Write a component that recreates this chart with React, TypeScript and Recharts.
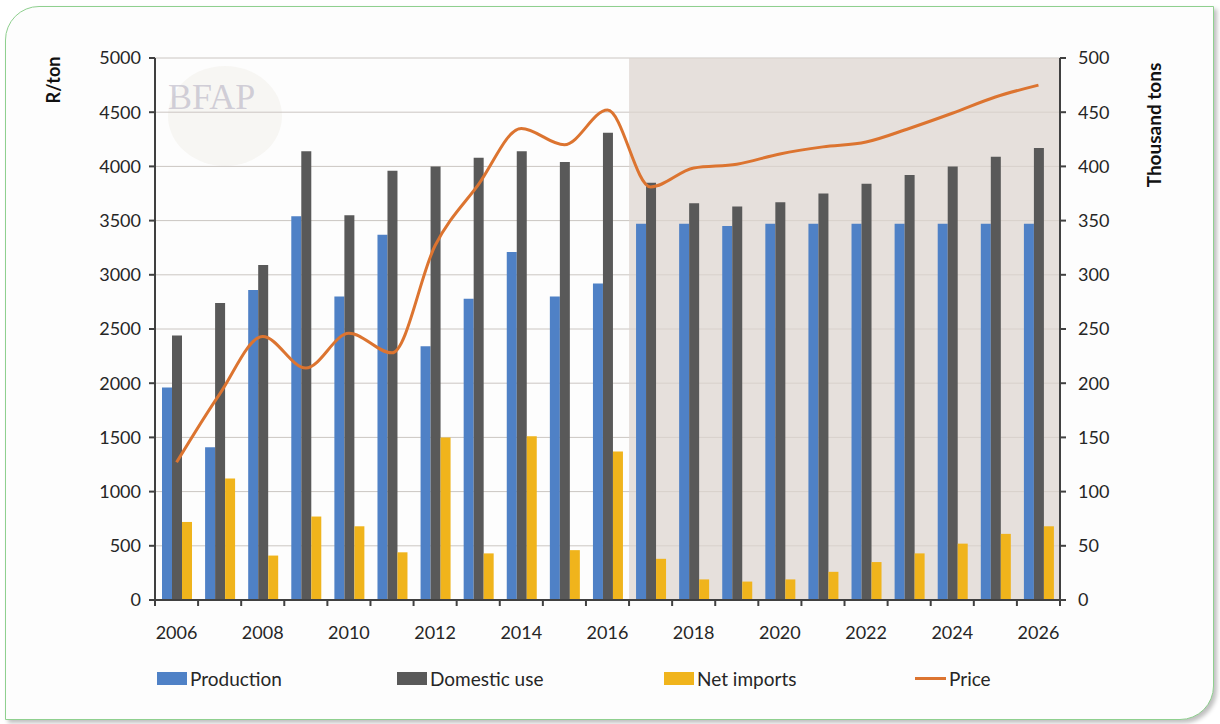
import React from "react";
import {
  ComposedChart, Bar, Line, XAxis, YAxis, CartesianGrid, Legend, ReferenceArea,
} from "recharts";

const years = [
  "2006", "2007", "2008", "2009", "2010", "2011", "2012", "2013", "2014", "2015", "2016",
  "2017", "2018", "2019", "2020", "2021", "2022", "2023", "2024", "2025", "2026",
];
// thousand tons (right axis)
const production = [196, 141, 286, 354, 280, 337, 234, 278, 321, 280, 292, 347, 347, 345, 347, 347, 347, 347, 347, 347, 347];
const domesticUse = [244, 274, 309, 414, 355, 396, 400, 408, 414, 404, 431, 385, 366, 363, 367, 375, 384, 392, 400, 409, 417];
const netImports = [72, 112, 41, 77, 68, 44, 150, 43, 151, 46, 137, 38, 19, 17, 19, 26, 35, 43, 52, 61, 68];
// R/ton (left axis)
const price = [1270, 1900, 2430, 2140, 2460, 2280, 3270, 3830, 4350, 4200, 4520, 3810, 3985, 4020, 4115, 4180, 4225, 4350, 4490, 4640, 4750];

const leftTicks = [0, 500, 1000, 1500, 2000, 2500, 3000, 3500, 4000, 4500, 5000];
const rightTicks = [0, 50, 100, 150, 200, 250, 300, 350, 400, 450, 500];
const projectionStart = "2017";
const projectionEnd = "2026";

const data = years.map((y, i) => ({
  year: y,
  production: production[i],
  domestic: domesticUse[i],
  imports: netImports[i],
  price: price[i],
}));

const FONT = "Lato, 'Open Sans', sans-serif";
const TEXT = "#262626";
const AXIS = "#404040";

function YearTick({ x, y, payload, index }: any) {
  const half = payload?.offset ?? 21.5;
  const isLast = index === years.length - 1;
  const showLabel = index % 2 === 0;
  return (
    <g>
      <line x1={x - half} x2={x - half} y1={y - 8} y2={y - 2} stroke={AXIS} strokeWidth={2} />
      {isLast && <line x1={x + half} x2={x + half} y1={y - 8} y2={y - 2} stroke={AXIS} strokeWidth={2} />}
      {showLabel && (
        <text x={x} y={y + 31} textAnchor="middle" fill={TEXT} fontSize={18} fontFamily={FONT}>
          {payload.value}
        </text>
      )}
    </g>
  );
}

const legendItems = [
  { label: "Production", color: "#4f81c6", kind: "box", left: 157 },
  { label: "Domestic use", color: "#595959", kind: "box", left: 397 },
  { label: "Net imports", color: "#f0b41c", kind: "box", left: 664 },
  { label: "Price", color: "#dc7430", kind: "line", left: 915 },
];

function LegendContent() {
  return (
    <div style={{ position: "relative", height: 30, width: 1220 }}>
      {legendItems.map((it) => (
        <div key={it.label} style={{ position: "absolute", left: it.left, top: 15, display: "flex", alignItems: "center", height: 30 }}>
          {it.kind === "box" ? (
            <span style={{ display: "inline-block", width: 30, height: 13, background: it.color }} />
          ) : (
            <span style={{ display: "inline-block", width: 31, height: 3, background: it.color }} />
          )}
          <span style={{ marginLeft: 3, fontFamily: FONT, fontSize: 19, color: TEXT }}>{it.label}</span>
        </div>
      ))}
    </div>
  );
}

export default function App() {
  return (
    <div style={{ position: "absolute", left: 0, top: 0, width: 1220, height: 724, background: "#fff", overflow: "hidden" }}>
      <div
        style={{
          position: "absolute", left: 5, top: 6, width: 1207, height: 712,
          border: "1.5px solid #8fd08f", borderRadius: "34px 0 34px 0",
          boxShadow: "3px 3px 4px rgba(0,0,0,0.25)", background: "#fdfdfd",
        }}
      />
      {/* faint logo watermark */}
      <div style={{ position: "absolute", left: 168, top: 66, width: 114, height: 100, borderRadius: "50%", background: "rgba(225,220,205,0.2)" }} />
      <div style={{ position: "absolute", left: 168, top: 76, fontFamily: "'Liberation Serif', serif", fontSize: 36, color: "rgba(170,165,185,0.5)" }}>
        BFAP
      </div>
      <div style={{ position: "absolute", left: 28, top: 80, transform: "translate(0,-50%) rotate(-90deg)", transformOrigin: "center", whiteSpace: "nowrap", fontFamily: FONT, fontWeight: 700, fontSize: 18, color: "#111", width: 50, textAlign: "center" }}>
        R/ton
      </div>
      <div style={{ position: "absolute", left: 1083, top: 125, transform: "translate(0,-50%) rotate(-90deg)", transformOrigin: "center", whiteSpace: "nowrap", fontFamily: FONT, fontWeight: 700, fontSize: 19, color: "#111", width: 140, textAlign: "center" }}>
        Thousand tons
      </div>
      <div style={{ position: "absolute", left: 0, top: 0 }}>
        <ComposedChart
          width={1220}
          height={724}
          data={data}
          margin={{ top: 58, right: 0, bottom: 38, left: 0 }}
          barGap={0}
          barSize={10}
        >
          <CartesianGrid vertical={false} stroke="#cbc6c2" strokeWidth={1} yAxisId="left" />
          <ReferenceArea
            x1={projectionStart}
            x2={projectionEnd}
            y1={0}
            y2={5000}
            yAxisId="left"
            fill="#ddd4ce"
            fillOpacity={0.72}
            stroke="none"
          />
          <XAxis
            dataKey="year"
            interval={0}
            tickLine={false}
            axisLine={{ stroke: AXIS, strokeWidth: 2 }}
            tick={<YearTick />}
            height={48}
          />
          <YAxis
            yAxisId="left"
            domain={[0, 5000]}
            ticks={leftTicks}
            width={155}
            tickSize={6}
            tickMargin={8}
            axisLine={{ stroke: AXIS, strokeWidth: 2 }}
            tickLine={{ stroke: AXIS, strokeWidth: 2 }}
            tick={{ fill: TEXT, fontSize: 18, fontFamily: FONT }}
          />
          <YAxis
            yAxisId="right"
            orientation="right"
            domain={[0, 500]}
            ticks={rightTicks}
            width={160}
            tickSize={6}
            tickMargin={12}
            axisLine={{ stroke: AXIS, strokeWidth: 2 }}
            tickLine={{ stroke: AXIS, strokeWidth: 2 }}
            tick={{ fill: TEXT, fontSize: 18, fontFamily: FONT, textAnchor: "start" }}
          />
          <Bar yAxisId="right" dataKey="production" name="Production" fill="#4f81c6" isAnimationActive={false} />
          <Bar yAxisId="right" dataKey="domestic" name="Domestic use" fill="#595959" isAnimationActive={false} />
          <Bar yAxisId="right" dataKey="imports" name="Net imports" fill="#f0b41c" isAnimationActive={false} />
          <Line
            yAxisId="left"
            type="monotone"
            dataKey="price"
            name="Price"
            stroke="#dc7430"
            strokeWidth={3}
            dot={false}
            activeDot={false}
            isAnimationActive={false}
          />
          <Legend verticalAlign="bottom" height={38} content={<LegendContent />} />
        </ComposedChart>
      </div>
    </div>
  );
}
